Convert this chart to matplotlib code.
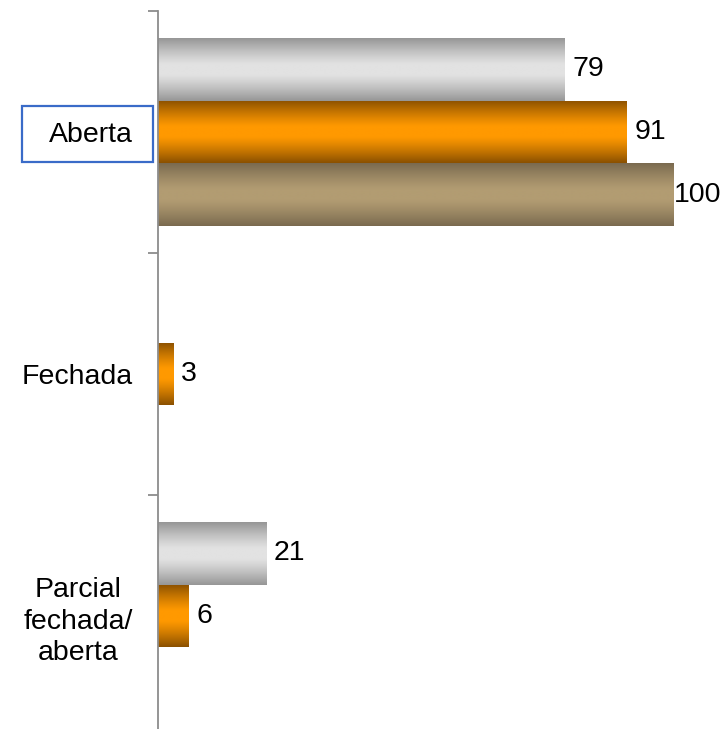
import numpy as np
import matplotlib
matplotlib.use("Agg")
import matplotlib.pyplot as plt
from matplotlib.colors import LinearSegmentedColormap
from matplotlib.patches import Rectangle

plt.rcParams['font.family'] = ['Liberation Sans', 'DejaVu Sans']

categories = ["Aberta", "Fechada", "Parcial\nfechada/\naberta"]
series_gray = [79, 0, 21]
series_orange = [91, 3, 6]
series_tan = [100, 0, 0]

W, H = 722, 729
dpi = 100
fig = plt.figure(figsize=(W / dpi, H / dpi), dpi=dpi)
ax = fig.add_axes([158 / W, -8 / H, (W - 158) / W, 726 / H])
XMAX = 109.5

y = np.arange(len(categories))
bh = 0.26
series = [
    (series_gray, -bh, ("#969696", "#e2e2e2")),
    (series_orange, 0.0, ("#8a5000", "#ff9900")),
    (series_tan, bh, ("#7a6a4f", "#b29c72")),
]

# vertical profile: dark edges, bright plateau in the middle
prof = np.linspace(-1, 1, 256)
t = np.clip((np.abs(prof) - 0.15) / 0.85, 0, 1) ** 1.2
grad = (1 - t).reshape(-1, 1)

for vals, off, (edge, center) in series:
    cmap = LinearSegmentedColormap.from_list("g", [edge, center])
    bars = ax.barh(y + off, vals, height=bh, color=center, edgecolor="none")
    for b, v in zip(bars, vals):
        if v <= 0:
            b.set_visible(False)
            continue
        x0, y0, w, h = b.get_x(), b.get_y(), b.get_width(), b.get_height()
        im = ax.imshow(grad, cmap=cmap, aspect="auto", vmin=0, vmax=1,
                       extent=(x0, x0 + w, y0 + h, y0), interpolation="bilinear",
                       zorder=2)
        im.set_clip_path(b)
        pad = min(1.5, XMAX - v - 9.4)
        ax.text(v + pad, y0 + h / 2, f"{v}", va="center", ha="left",
                fontsize=20.5, color="black", clip_on=False)

ax.set_xlim(0, XMAX)
ax.set_ylim(2.5, -0.5)

for s in ["top", "right", "bottom"]:
    ax.spines[s].set_visible(False)
ax.spines["left"].set_color("#8c8c8c")
ax.spines["left"].set_linewidth(1.3)
ax.set_xticks([])

ax.set_yticks([-0.5, 0.5, 1.5, 2.5])
ax.set_yticklabels([])
ax.tick_params(axis="y", which="major", length=7.2, width=1.3, color="#8c8c8c", direction="out")
ax.set_yticks(y, minor=True)
ax.set_yticklabels(categories, minor=True, fontsize=20.5, ha="right",
                   multialignment="center", linespacing=1.28)
ax.tick_params(axis="y", which="minor", length=0, pad=18)

# highlight box around "Aberta"
fig.add_artist(Rectangle((22 / W, 1 - 162 / H), (153 - 22) / W, (162 - 106) / H,
                         transform=fig.transFigure, fill=False,
                         edgecolor="#3a6bc8", linewidth=1.6))

fig.savefig("out.png", dpi=dpi)
